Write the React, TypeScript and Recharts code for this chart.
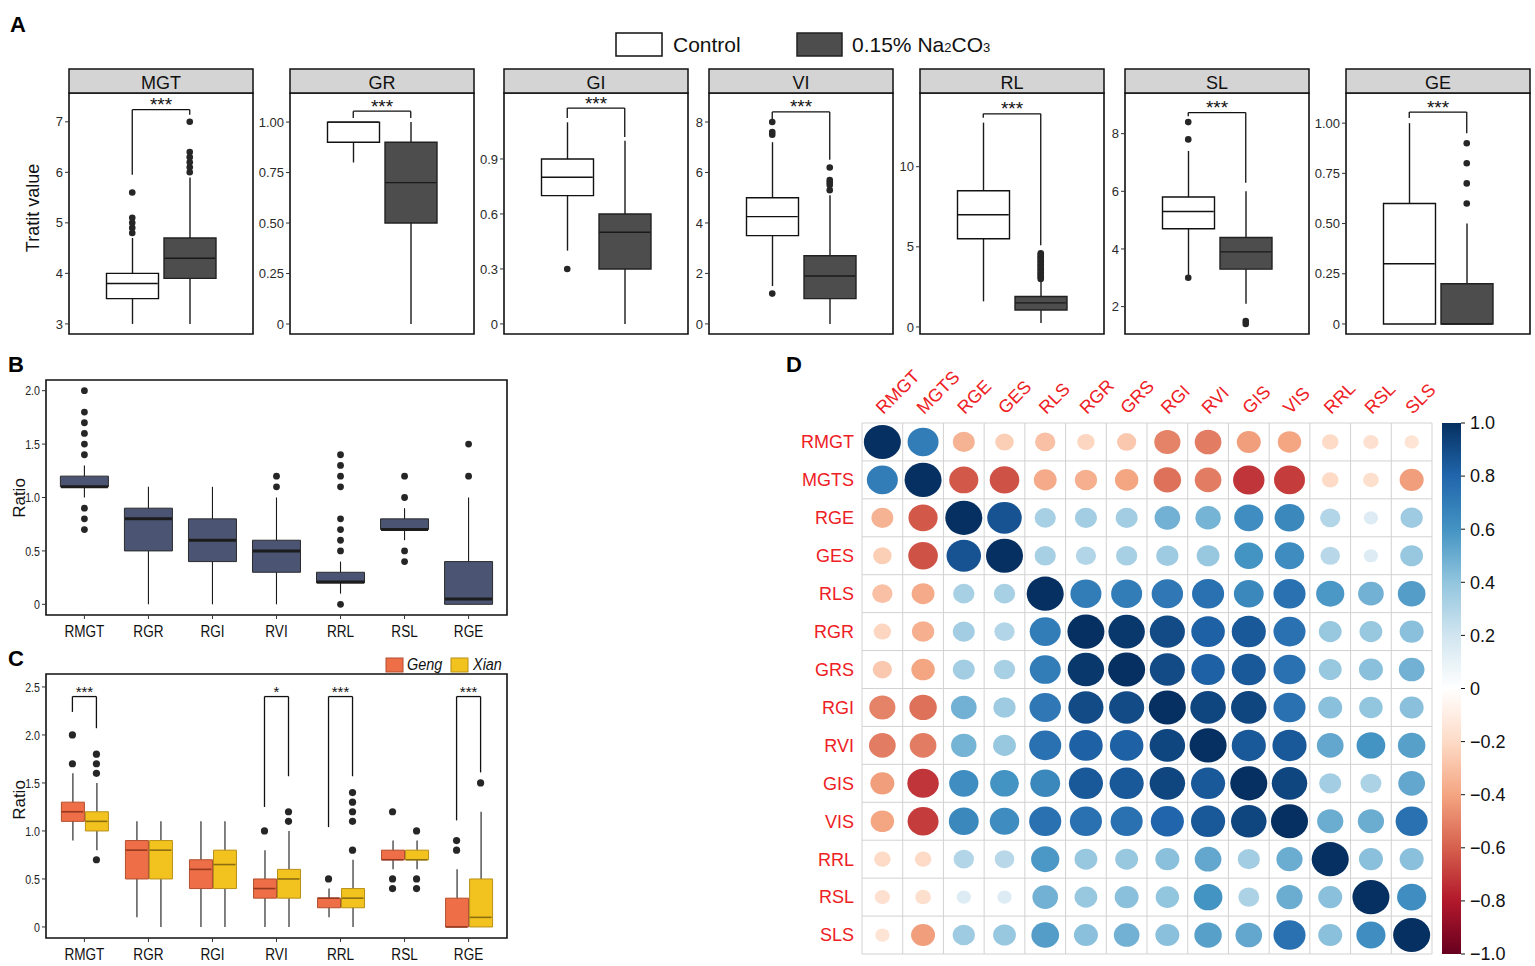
import React from "react";
import {
  ComposedChart, ScatterChart, BarChart, Bar, Scatter, XAxis, YAxis,
  ReferenceLine, ReferenceArea, Cell,
} from "recharts";

const SANS = '"Liberation Sans", Arial, sans-serif';

// ---------- panel A: trait values, control vs 0.15% Na2CO3 ----------
const TRAITS = ["MGT", "GR", "GI", "VI", "RL", "SL", "GE"];
// [lower whisker, Q1, median, Q3, upper whisker]
const CONTROL_STATS = [
  [3.0, 3.5, 3.8, 4.0, 4.7],
  [0.8, 0.9, 1.0, 1.0, 1.0],
  [0.4, 0.7, 0.8, 0.9, 1.1],
  [1.5, 3.5, 4.25, 5.0, 7.2],
  [1.6, 5.5, 7.0, 8.5, 12.75],
  [3.1, 4.7, 5.3, 5.8, 7.4],
  [0, 0, 0.3, 0.6, 1.0],
];
const SALT_STATS = [
  [3.0, 3.9, 4.3, 4.7, 5.9],
  [0, 0.5, 0.7, 0.9, 1.0],
  [0, 0.3, 0.5, 0.6, 1.0],
  [0, 1.0, 1.9, 2.7, 5.1],
  [0.25, 1.06, 1.5, 1.9, 2.9],
  [2.1, 3.3, 3.9, 4.4, 6.0],
  [0, 0, 0, 0.2, 0.5],
];
const CONTROL_OUTLIERS = [
  [4.8, 4.9, 5.0, 5.1, 5.6],
  [],
  [0.3],
  [1.2, 7.5, 7.6, 8.0],
  [],
  [3.0, 7.8, 8.4],
  [],
];
const SALT_OUTLIERS = [
  [6.0, 6.1, 6.2, 6.3, 6.4, 7.0],
  [],
  [],
  [5.3, 5.5, 5.6, 5.7, 6.2],
  [3.0, 3.1, 3.2, 3.3, 3.4, 3.5, 3.6, 3.7, 3.8, 3.9, 4.0, 4.1, 4.2, 4.3, 4.4, 4.5, 4.6],
  [1.4, 1.5],
  [0.6, 0.7, 0.8, 0.9],
];
// significance brackets: [top, left leg start, right leg start]
const A_BRACKETS = [
  [7.24, 5.95, 7.14],
  [1.054, 1.02, 1.02],
  [1.178, 1.124, 1.02],
  [8.4, 8.1, 6.5],
  [13.3, 13.06, 5.1],
  [8.73, 8.6, 6.3],
  [1.055, 1.025, 0.95],
];
const A_TICKS = [
  [3, 4, 5, 6, 7],
  [0, 0.25, 0.5, 0.75, 1],
  [0, 0.3, 0.6, 0.9],
  [0, 2, 4, 6, 8],
  [0, 5, 10],
  [2, 4, 6, 8],
  [0, 0.25, 0.5, 0.75, 1],
];
const A_DIGITS = [0, 2, 1, 0, 0, 0, 2];
const A_DOMAINS: [number, number][] = [
  [2.8, 7.57], [-0.0495, 1.144], [-0.055, 1.26], [-0.4, 9.15],
  [-0.44, 14.6], [1.05, 9.41], [-0.05, 1.15],
];
const A_LEFT = [69, 290, 504, 709, 920, 1125, 1346];

// ---------- panel B: stress / control ratios ----------
const RATIO_CATS = ["RMGT", "RGR", "RGI", "RVI", "RRL", "RSL", "RGE"];
const RATIO_STATS = [
  [1.0, 1.1, 1.1, 1.2, 1.3],
  [0, 0.5, 0.8, 0.9, 1.1],
  [0, 0.4, 0.6, 0.8, 1.1],
  [0, 0.3, 0.5, 0.6, 1.0],
  [0.1, 0.2, 0.21, 0.3, 0.4],
  [0.6, 0.7, 0.7, 0.8, 0.9],
  [0, 0, 0.05, 0.4, 1.0],
];
const RATIO_OUTLIERS = [
  [0.7, 0.8, 0.9, 1.4, 1.5, 1.6, 1.7, 1.8, 2.0],
  [],
  [],
  [1.1, 1.2],
  [0, 0.5, 0.6, 0.7, 0.8, 1.1, 1.2, 1.3, 1.4],
  [0.4, 0.5, 1.0, 1.2],
  [1.2, 1.5],
];

// ---------- panel C: Geng vs Xian ratios ----------
const GENG_STATS = [
  [0.9, 1.1, 1.2, 1.3, 1.6],
  [0.1, 0.5, 0.8, 0.9, 1.1],
  [0, 0.4, 0.6, 0.7, 1.1],
  [0, 0.3, 0.4, 0.5, 0.8],
  [0.1, 0.2, 0.3, 0.3, 0.4],
  [0.6, 0.7, 0.7, 0.8, 0.9],
  [0, 0, 0, 0.3, 0.6],
];
const XIAN_STATS = [
  [0.8, 1.0, 1.1, 1.2, 1.5],
  [0, 0.5, 0.8, 0.9, 1.1],
  [0, 0.4, 0.65, 0.8, 1.1],
  [0, 0.3, 0.5, 0.6, 1.0],
  [0, 0.2, 0.3, 0.4, 0.7],
  [0.6, 0.7, 0.7, 0.8, 0.9],
  [0, 0, 0.1, 0.5, 1.2],
];
const GENG_OUTLIERS = [[1.7, 2.0], [], [], [1.0], [0.5], [0.4, 0.5, 1.2], [0.8, 0.9]];
const XIAN_OUTLIERS = [[0.7, 1.6, 1.7, 1.8], [], [], [1.1, 1.2], [0.8, 1.1, 1.2, 1.3, 1.4], [0.4, 0.5, 1.0], [1.5]];
// [category index, top, left leg start, right leg start]
const C_BRACKETS = [
  [0, 2.4, 2.24, 2.07],
  [3, 2.4, 1.25, 1.57],
  [4, 2.4, 1.04, 1.57],
  [6, 2.4, 1.11, 1.61],
];
const C_SIG = ["***", "*", "***", "***"];

// ---------- panel D: correlation matrix ----------
const CORR_VARS = ["RMGT", "MGTS", "RGE", "GES", "RLS", "RGR", "GRS", "RGI", "RVI", "GIS", "VIS", "RRL", "RSL", "SLS"];
const CORR = [
  [1, 0.7, -0.35, -0.25, -0.3, -0.22, -0.27, -0.5, -0.52, -0.42, -0.4, -0.2, -0.17, -0.15],
  [0.7, 1, -0.62, -0.64, -0.38, -0.36, -0.4, -0.55, -0.52, -0.72, -0.7, -0.2, -0.18, -0.42],
  [-0.35, -0.62, 1, 0.87, 0.33, 0.35, 0.35, 0.48, 0.47, 0.62, 0.65, 0.3, 0.15, 0.36],
  [-0.25, -0.64, 0.87, 1, 0.33, 0.3, 0.33, 0.36, 0.38, 0.6, 0.63, 0.28, 0.15, 0.38],
  [-0.3, -0.38, 0.33, 0.33, 1, 0.7, 0.7, 0.72, 0.75, 0.65, 0.75, 0.58, 0.48, 0.56],
  [-0.22, -0.36, 0.35, 0.3, 0.7, 1, 0.97, 0.9, 0.82, 0.85, 0.75, 0.38, 0.38, 0.42],
  [-0.27, -0.4, 0.35, 0.33, 0.7, 0.97, 1, 0.9, 0.82, 0.85, 0.75, 0.38, 0.42, 0.48],
  [-0.5, -0.55, 0.48, 0.36, 0.72, 0.9, 0.9, 1, 0.92, 0.92, 0.75, 0.42, 0.4, 0.42],
  [-0.52, -0.52, 0.47, 0.38, 0.75, 0.82, 0.82, 0.92, 1, 0.85, 0.85, 0.52, 0.6, 0.55],
  [-0.42, -0.72, 0.62, 0.6, 0.65, 0.85, 0.85, 0.92, 0.85, 1, 0.92, 0.35, 0.32, 0.52],
  [-0.4, -0.7, 0.65, 0.63, 0.75, 0.75, 0.75, 0.8, 0.85, 0.92, 1, 0.5, 0.5, 0.75],
  [-0.2, -0.2, 0.3, 0.28, 0.58, 0.38, 0.38, 0.42, 0.52, 0.35, 0.5, 1, 0.42, 0.42],
  [-0.17, -0.18, 0.15, 0.15, 0.48, 0.38, 0.42, 0.4, 0.6, 0.32, 0.5, 0.42, 1, 0.62],
  [-0.15, -0.42, 0.36, 0.38, 0.56, 0.42, 0.48, 0.42, 0.55, 0.52, 0.75, 0.42, 0.62, 1],
];
const CB_TICKS = [1, 0.8, 0.6, 0.4, 0.2, 0, -0.2, -0.4, -0.6, -0.8, -1];
const RDBU = ["#67001F", "#B2182B", "#D6604D", "#F4A582", "#FDDBC7", "#FFFFFF",
  "#D1E5F0", "#92C5DE", "#4393C3", "#2166AC", "#053061"];

function hexToRgb(h: string) {
  return [1, 3, 5].map((i) => parseInt(h.slice(i, i + 2), 16));
}
function corrColor(r: number) {
  const t = ((r + 1) / 2) * 10;
  const i = Math.min(9, Math.max(0, Math.floor(t)));
  const f = t - i;
  const a = hexToRgb(RDBU[i]);
  const b = hexToRgb(RDBU[i + 1]);
  const c = a.map((v, k) => Math.round(v + (b[k] - v) * f));
  return `rgb(${c[0]},${c[1]},${c[2]})`;
}

interface BoxGroup {
  stats: number[][];
  outliers: number[][];
  offset: number;
  fill: string;
  stroke: string;
  median: string;
}
interface Bracket { x1: number; x2: number; top: number; y1: number; y2: number; label: string }

interface BoxChartProps {
  width: number;
  height: number;
  margin: { top: number; right: number; bottom: number; left: number };
  xDomain: [number, number];
  xLabels?: string[];
  yDomain: [number, number];
  yTicks: number[];
  yFormat: (v: number) => string;
  yAxisWidth: number;
  narrow: boolean;
  groups: BoxGroup[];
  boxWidth: number;
  boxStroke: number;
  medianStroke: number;
  whiskerStroke: number;
  dotR: number;
  brackets: Bracket[];
  starSize: number;
  starDrop: number;
}

// condensed tick labels (the original uses a narrow sans)
function NarrowXTick(props: any) {
  const { x, y, payload, labels } = props;
  return (
    <text transform={`translate(${x},${y}) scale(0.8,1)`} textAnchor="middle" dy="0.75em"
      fontSize={17} fontFamily={SANS} fill="#111">
      {labels[payload.value]}
    </text>
  );
}
function NarrowYTick(props: any) {
  const { x, y, payload, fmt } = props;
  return (
    <text transform={`translate(${x},${y}) scale(0.82,1)`} textAnchor="end" dy="0.355em"
      fontSize={13} fontFamily={SANS} fill="#222">
      {fmt(payload.value)}
    </text>
  );
}

function BoxChart(p: BoxChartProps) {
  const rows: { x: number; whisker: number[]; box: number[] }[] = [];
  const styles: BoxGroup[] = [];
  p.groups.forEach((g) =>
    g.stats.forEach((s, i) => {
      rows.push({ x: i + g.offset, whisker: [s[0], s[4]], box: [s[1], s[3]] });
      styles.push(g);
    })
  );
  const W = p.boxWidth;
  const whisker = (s: any) => (
    <line x1={s.x + s.width / 2} x2={s.x + s.width / 2} y1={s.y} y2={s.y + s.height}
      stroke="#1a1a1a" strokeWidth={p.whiskerStroke} />
  );
  const xTicks = p.xLabels ? p.xLabels.map((_, i) => i) : undefined;
  const outlierSets = p.groups
    .map((g) => g.outliers.flatMap((o, i) => o.map((y) => ({ x: i + g.offset, y }))))
    .filter((d) => d.length > 0);
  const seg = { stroke: "#111", strokeWidth: 1.3 };
  return (
    <ComposedChart width={p.width} height={p.height} data={rows} margin={p.margin} barGap={-W}>
      <XAxis type="number" dataKey="x" domain={p.xDomain} allowDataOverflow hide={!p.xLabels}
        ticks={xTicks} tickCount={2} interval={0} height={30}
        axisLine={false} tickSize={4} tickMargin={5} tickLine={{ stroke: "#333" }}
        tick={<NarrowXTick labels={p.xLabels || []} />} />
      <YAxis type="number" domain={p.yDomain} allowDataOverflow ticks={p.yTicks} interval={0}
        tickFormatter={p.yFormat} width={p.yAxisWidth} axisLine={false} tickSize={4} tickMargin={2}
        tickLine={{ stroke: "#333" }}
        tick={p.narrow ? <NarrowYTick fmt={p.yFormat} /> : { fontSize: 13, fontFamily: SANS, fill: "#2a2a2a" }} />
      <Bar dataKey="whisker" barSize={W} shape={whisker} isAnimationActive={false} />
      <Bar dataKey="box" barSize={W} strokeWidth={p.boxStroke} isAnimationActive={false}>
        {rows.map((_, k) => (
          <Cell key={k} fill={styles[k].fill} stroke={styles[k].stroke} />
        ))}
      </Bar>
      {p.groups.map((g, gi) => (
        <Scatter key={"m" + gi} dataKey="y" isAnimationActive={false}
          data={g.stats.map((s, i) => ({ x: i + g.offset, y: s[2] }))}
          shape={(s: any) => (
            <line x1={s.cx - W / 2 + 0.5} x2={s.cx + W / 2 - 0.5} y1={s.cy} y2={s.cy}
              stroke={g.median} strokeWidth={p.medianStroke} />
          )} />
      ))}
      {outlierSets.map((d, k) => (
        <Scatter key={"o" + k} dataKey="y" isAnimationActive={false} data={d}
          shape={(s: any) => <circle cx={s.cx} cy={s.cy} r={p.dotR} fill="#262626" />} />
      ))}
      {p.brackets.map((b, k) => (
        <ReferenceLine key={"bl" + k} segment={[{ x: b.x1, y: b.y1 }, { x: b.x1, y: b.top }]} {...seg} />
      ))}
      {p.brackets.map((b, k) => (
        <ReferenceLine key={"br" + k} segment={[{ x: b.x2, y: b.y2 }, { x: b.x2, y: b.top }]} {...seg} />
      ))}
      {p.brackets.map((b, k) => (
        <ReferenceLine key={"bt" + k} segment={[{ x: b.x1, y: b.top }, { x: b.x2, y: b.top }]} {...seg}
          label={{ value: b.label, position: "top", offset: -p.starDrop, fontSize: p.starSize, fill: "#111", fontFamily: SANS }} />
      ))}
      <ReferenceArea x1={p.xDomain[0]} x2={p.xDomain[1]} y1={p.yDomain[0]} y2={p.yDomain[1]}
        fill="none" stroke="#111" strokeWidth={1.6} ifOverflow="visible" />
    </ComposedChart>
  );
}

const fmtFixed = (d: number) => (v: number) => (v === 0 ? "0" : v.toFixed(d));

function TraitFacet({ i }: { i: number }) {
  const b = A_BRACKETS[i];
  const groups: BoxGroup[] = [
    { stats: [CONTROL_STATS[i]], outliers: [CONTROL_OUTLIERS[i]], offset: -0.1875, fill: "#ffffff", stroke: "#111", median: "#111" },
    { stats: [SALT_STATS[i]], outliers: [SALT_OUTLIERS[i]], offset: 0.1875, fill: "#4d4d4d", stroke: "#222", median: "#1a1a1a" },
  ];
  return (
    <BoxChart width={40 + 184 + 1} height={243} margin={{ top: 1, right: 1, bottom: 1, left: 0 }}
      xDomain={[-0.6, 0.6]} yDomain={A_DOMAINS[i]} yTicks={A_TICKS[i]} yFormat={fmtFixed(A_DIGITS[i])}
      yAxisWidth={40} narrow={false}
      groups={groups} boxWidth={52} boxStroke={1.4} medianStroke={1.4} whiskerStroke={1.4} dotR={3.3}
      brackets={[{ x1: -0.1875, x2: 0.1875, top: b[0], y1: b[1], y2: b[2], label: "***" }]}
      starSize={19} starDrop={1.5} />
  );
}

function ColTick(props: any) {
  const { x, y, payload } = props;
  return (
    <text transform={`translate(${x + 1},${y}) rotate(-45)`} textAnchor="start"
      fontSize={18} fontFamily={SANS} fill="#ee2024">
      {CORR_VARS[payload.value]}
    </text>
  );
}

const CELL_W = 570 / 14;
const CELL_H = 531 / 14;

function CorrPlot() {
  const cells = CORR.flatMap((row, r) => row.map((v, c) => ({ x: c, y: r, r: v })));
  const idx = CORR_VARS.map((_, i) => i);
  const edges = Array.from({ length: 15 }, (_, k) => k - 0.5);
  return (
    <ScatterChart width={694} height={616} margin={{ top: 0, right: 42, bottom: 2, left: 0 }}>
      <XAxis type="number" dataKey="x" domain={[-0.5, 13.5]} allowDataOverflow ticks={idx} interval={0}
        orientation="top" height={83} tick={<ColTick />} tickLine={false} axisLine={false} />
      <YAxis type="number" dataKey="y" domain={[-0.5, 13.5]} allowDataOverflow reversed ticks={idx}
        interval={0} width={82} tickLine={false} axisLine={false}
        tickFormatter={(v: number) => CORR_VARS[v]}
        tick={{ fontSize: 18, fontFamily: SANS, fill: "#ee2024" }} />
      {edges.map((e) => (
        <ReferenceLine key={"v" + e} x={e} stroke="#d2d2d2" strokeWidth={1} ifOverflow="visible" />
      ))}
      {edges.map((e) => (
        <ReferenceLine key={"h" + e} y={e} stroke="#d2d2d2" strokeWidth={1} ifOverflow="visible" />
      ))}
      <Scatter data={cells} isAnimationActive={false}
        shape={(s: any) => {
          const k = Math.sqrt(Math.abs(s.payload.r));
          return (
            <ellipse cx={s.cx} cy={s.cy} rx={0.455 * CELL_W * k} ry={0.45 * CELL_H * k}
              fill={corrColor(s.payload.r)} />
          );
        }} />
    </ScatterChart>
  );
}

function ColorBar() {
  return (
    <BarChart width={79} height={555} data={[{ k: "r", span: [-1, 1] }]}
      margin={{ top: 12, right: 0, bottom: 12, left: 0 }} barCategoryGap={0}>
      <defs>
        <linearGradient id="cbGrad" x1="0" y1="0" x2="0" y2="1">
          {RDBU.slice().reverse().map((c, i) => (
            <stop key={i} offset={`${i * 10}%`} stopColor={c} />
          ))}
        </linearGradient>
      </defs>
      <XAxis dataKey="k" hide />
      <YAxis orientation="right" domain={[-1, 1]} ticks={CB_TICKS} interval={0} width={60}
        axisLine={false} tickSize={4} tickMargin={5} tickLine={{ stroke: "#111" }}
        tickFormatter={(v: number) => (v === 0 ? "0" : (v < 0 ? "\u2212" : "") + Math.abs(v).toFixed(1))}
        tick={{ fontSize: 18, fontFamily: SANS, fill: "#111", textAnchor: "start" }} />
      <Bar dataKey="span" fill="url(#cbGrad)" isAnimationActive={false} />
    </BarChart>
  );
}

export default function App() {
  const ratioGroup: BoxGroup[] = [
    { stats: RATIO_STATS, outliers: RATIO_OUTLIERS, offset: 0, fill: "#4b5573", stroke: "#2b2b2b", median: "#1c1c1c" },
  ];
  const subGroups: BoxGroup[] = [
    { stats: GENG_STATS, outliers: GENG_OUTLIERS, offset: -0.1875, fill: "#ee6e47", stroke: "#b24f2e", median: "#94391f" },
    { stats: XIAN_STATS, outliers: XIAN_OUTLIERS, offset: 0.1875, fill: "#f2c31f", stroke: "#b89019", median: "#8c6d10" },
  ];
  const cBrackets: Bracket[] = C_BRACKETS.map((b, k) => ({
    x1: b[0] - 0.1875, x2: b[0] + 0.1875, top: b[1], y1: b[2], y2: b[3], label: C_SIG[k],
  }));
  return (
    <div style={{ position: "absolute", left: 0, top: 0, width: 1535, height: 966, background: "#fff", fontFamily: SANS }}>
      {TRAITS.map((t, i) => (
        <div key={t} style={{ position: "absolute", left: A_LEFT[i] - 40, top: 92 }}>
          <TraitFacet i={i} />
        </div>
      ))}
      <div style={{ position: "absolute", left: 0, top: 379 }}>
        <BoxChart width={509} height={266} margin={{ top: 1, right: 2, bottom: 0, left: 0 }}
          xDomain={[-0.6, 6.6]} xLabels={RATIO_CATS} yDomain={[-0.1, 2.1]} yTicks={[0, 0.5, 1, 1.5, 2]}
          yFormat={fmtFixed(1)} yAxisWidth={46} narrow
          groups={ratioGroup} boxWidth={48} boxStroke={1} medianStroke={3} whiskerStroke={1.1} dotR={3.4}
          brackets={[]} starSize={15} starDrop={1} />
      </div>
      <div style={{ position: "absolute", left: 0, top: 673 }}>
        <BoxChart width={509} height={295} margin={{ top: 1, right: 2, bottom: 0, left: 0 }}
          xDomain={[-0.6, 6.6]} xLabels={RATIO_CATS} yDomain={[-0.115, 2.635]} yTicks={[0, 0.5, 1, 1.5, 2, 2.5]}
          yFormat={fmtFixed(1)} yAxisWidth={46} narrow
          groups={subGroups} boxWidth={23} boxStroke={1} medianStroke={1.6} whiskerStroke={1.1} dotR={3.6}
          brackets={cBrackets} starSize={15} starDrop={0.5} />
      </div>
      <div style={{ position: "absolute", left: 780, top: 340 }}>
        <CorrPlot />
      </div>
      <div style={{ position: "absolute", left: 1442, top: 411 }}>
        <ColorBar />
      </div>
      <svg width={1535} height={966} style={{ position: "absolute", left: 0, top: 0, pointerEvents: "none" }}>
        <g fontFamily={SANS} fontWeight="bold" fontSize={22} fill="#000">
          <text x={10} y={32}>A</text>
          <text x={8} y={372}>B</text>
          <text x={8} y={666}>C</text>
          <text x={786} y={372}>D</text>
        </g>
        <rect x={616} y={33} width={46} height={23} fill="#fff" stroke="#111" strokeWidth={1.5} />
        <text x={673} y={52} fontFamily={SANS} fontSize={21} fill="#111">Control</text>
        <rect x={797} y={33} width={45} height={23} fill="#4d4d4d" stroke="#222" strokeWidth={1.5} />
        <text x={852} y={52} fontFamily={SANS} fontSize={21} fill="#111">
          0.15% Na<tspan fontSize={13}>2</tspan>CO<tspan fontSize={13}>3</tspan>
        </text>
        {TRAITS.map((t, i) => (
          <g key={t}>
            <rect x={A_LEFT[i]} y={69} width={184} height={24} fill="#d4d4d4" stroke="#111" strokeWidth={1.5} />
            <text x={A_LEFT[i] + 92} y={89} textAnchor="middle" fontFamily={SANS} fontSize={18} fill="#111">{t}</text>
          </g>
        ))}
        <text transform="translate(39,208) rotate(-90)" textAnchor="middle" fontFamily={SANS} fontSize={18} fill="#111">Tratit value</text>
        <text transform="translate(25,498) rotate(-90)" textAnchor="middle" fontFamily={SANS} fontSize={17} fill="#111">Ratio</text>
        <text transform="translate(25,800) rotate(-90)" textAnchor="middle" fontFamily={SANS} fontSize={17} fill="#111">Ratio</text>
        <rect x={386} y={658} width={17} height={14} fill="#ee6e47" stroke="#b24f2e" />
        <text transform="translate(407,670) scale(0.85,1)" fontFamily={SANS} fontStyle="italic" fontSize={17} fill="#111">Geng</text>
        <rect x={451} y={658} width={17} height={14} fill="#f2c31f" stroke="#b89019" />
        <text transform="translate(473,670) scale(0.85,1)" fontFamily={SANS} fontStyle="italic" fontSize={17} fill="#111">Xian</text>
      </svg>
    </div>
  );
}
